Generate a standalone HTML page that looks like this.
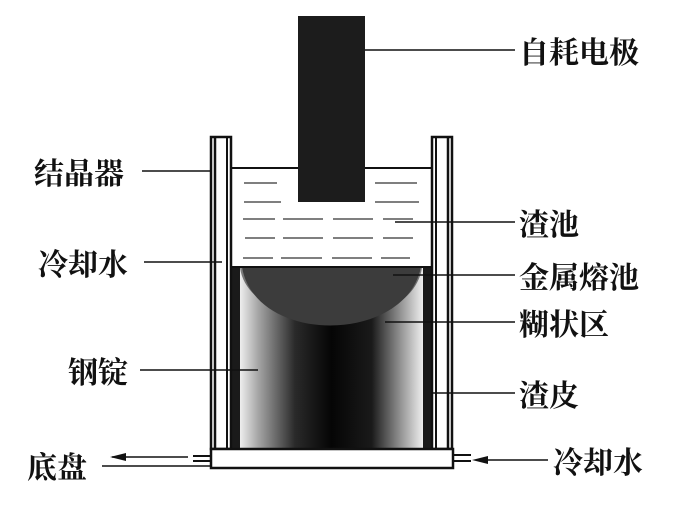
<!DOCTYPE html>
<html><head><meta charset="utf-8"><style>
html,body{margin:0;padding:0;background:#fff;}
svg{display:block;}
text{font-family:"Liberation Serif","Noto Serif CJK SC","Noto Sans CJK SC",serif;font-size:30px;font-weight:bold;fill:#111;}
</style></head><body>
<svg width="700" height="513" viewBox="0 0 700 513" xmlns="http://www.w3.org/2000/svg">
<defs>
<linearGradient id="ing" x1="0" x2="1" y1="0" y2="0">
<stop offset="0" stop-color="#eeeeee"/>
<stop offset="0.1" stop-color="#a5a5a5"/>
<stop offset="0.3" stop-color="#2a2a2a"/>
<stop offset="0.5" stop-color="#050505"/>
<stop offset="0.72" stop-color="#1a1a1a"/>
<stop offset="0.88" stop-color="#959595"/>
<stop offset="1" stop-color="#eeeeee"/>
</linearGradient>
<linearGradient id="mush" x1="0" x2="0" y1="0" y2="1">
<stop offset="0" stop-color="#555"/>
<stop offset="1" stop-color="#111"/>
</linearGradient>
</defs>
<rect x="240" y="267" width="183" height="181" fill="url(#ing)"/>
<path d="M240,268 C250,335 410,340 422,268 Z" fill="url(#mush)" opacity="0.7"/>
<path d="M242,267 L421,267 C405,345 255,345 242,267 Z" fill="#3c3c3c"/>
<rect x="232" y="266" width="8" height="182" fill="#1a1a1a"/>
<rect x="423" y="266" width="8" height="182" fill="#1a1a1a"/>
<g fill="none" stroke="#111">
<rect x="211" y="137" width="20" height="312" stroke-width="2.5"/>
<line x1="215" y1="137" x2="215" y2="449" stroke-width="2.5"/>
<line x1="227" y1="137" x2="227" y2="449" stroke-width="2"/>
<rect x="432" y="137" width="20" height="312" stroke-width="2.5"/>
<line x1="436" y1="137" x2="436" y2="449" stroke-width="2"/>
<line x1="448" y1="137" x2="448" y2="449" stroke-width="2.5"/>
</g>
<line x1="232" y1="168" x2="432" y2="168" stroke="#111" stroke-width="2"/>
<line x1="232" y1="267" x2="432" y2="267" stroke="#111" stroke-width="2"/>
<g stroke="#555" stroke-width="1.6">
<line x1="244" y1="183" x2="277" y2="183"/><line x1="375" y1="183" x2="417" y2="183"/>
<line x1="244" y1="202" x2="281" y2="202"/><line x1="375" y1="202" x2="419" y2="202"/>
<line x1="243" y1="219" x2="275" y2="219"/><line x1="283" y1="219" x2="323" y2="219"/><line x1="333" y1="219" x2="373" y2="219"/><line x1="383" y1="219" x2="413" y2="219"/>
<line x1="245" y1="238" x2="275" y2="238"/><line x1="283" y1="238" x2="323" y2="238"/><line x1="333" y1="238" x2="373" y2="238"/><line x1="383" y1="238" x2="413" y2="238"/>
<line x1="243" y1="258" x2="273" y2="258"/><line x1="281" y1="258" x2="322" y2="258"/><line x1="332" y1="258" x2="372" y2="258"/><line x1="381" y1="258" x2="410" y2="258"/>
</g>
<rect x="298" y="16" width="67" height="186" fill="#1c1c1c"/>
<rect x="211" y="449" width="242" height="19" fill="#fff" stroke="#111" stroke-width="2.5"/>
<g stroke="#111" stroke-width="2">
<line x1="193" y1="456" x2="211" y2="456"/><line x1="193" y1="461" x2="211" y2="461"/>
<line x1="453" y1="455" x2="471" y2="455"/><line x1="453" y1="461" x2="471" y2="461"/>
</g>
<g stroke="#111" stroke-width="1.6">
<line x1="365" y1="50" x2="515" y2="50"/>
<line x1="395" y1="222" x2="515" y2="222"/>
<line x1="393" y1="275" x2="515" y2="275"/>
<line x1="385" y1="322" x2="515" y2="322"/>
<line x1="432" y1="393" x2="515" y2="393"/>
<line x1="142" y1="171" x2="210" y2="171"/>
<line x1="144" y1="262" x2="222" y2="262"/>
<line x1="140" y1="370" x2="258" y2="370"/>
<line x1="112" y1="457" x2="188" y2="457"/>
<line x1="102" y1="466" x2="211" y2="466"/>
<line x1="480" y1="460" x2="548" y2="460"/>
</g>
<path d="M110,457 L126,453 L126,461 Z" fill="#111"/>
<path d="M472,460 L488,456 L488,464 Z" fill="#111"/>
<text x="519" y="63">自耗电极</text>
<text x="519" y="235">渣池</text>
<text x="519" y="288">金属熔池</text>
<text x="519" y="335">糊状区</text>
<text x="519" y="406">渣皮</text>
<text x="553" y="473">冷却水</text>
<text x="34" y="184">结晶器</text>
<text x="38" y="275">冷却水</text>
<text x="68" y="383">钢锭</text>
<text x="27" y="478">底盘</text>
</svg>
</body></html>
